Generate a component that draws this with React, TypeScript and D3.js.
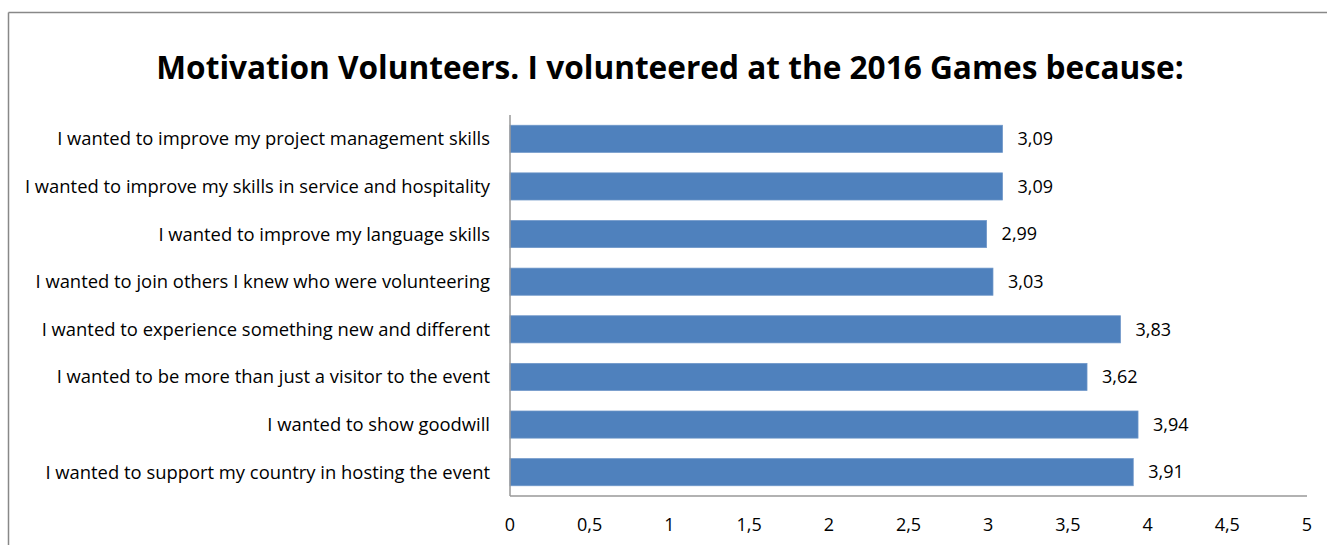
import React from "react";
import * as d3 from "d3";

const categories = [
  "I wanted to improve my project management skills",
  "I wanted to improve my skills in service and hospitality",
  "I wanted to improve my language skills",
  "I wanted to join others I knew who were volunteering",
  "I wanted to experience something new and different",
  "I wanted to be more than just a visitor to the event",
  "I wanted to show goodwill",
  "I wanted to support my country in hosting the event",
];
const values = [3.09, 3.09, 2.99, 3.03, 3.83, 3.62, 3.94, 3.91];
const ticks = [0, 0.5, 1, 1.5, 2, 2.5, 3, 3.5, 4, 4.5, 5];
const title = "Motivation Volunteers. I volunteered at the 2016 Games because:";

const W = 1328;
const H = 545;
const plot = { left: 510, right: 1307, top: 115, bottom: 496 };
const FONT = "'Open Sans', 'Noto Sans', sans-serif";
const fmt = (v: number) => String(v).replace(".", ",");

export default function App() {
  const x = d3.scaleLinear().domain([0, 5]).range([plot.left, plot.right]);
  const y = d3
    .scaleBand<string>()
    .domain(categories)
    .range([plot.top, plot.bottom])
    .paddingInner(0.43)
    .paddingOuter(0.215);
  return (
    <svg
      width={W}
      height={H}
      style={{ position: "absolute", left: 0, top: 0, background: "#fff" }}
      fontFamily={FONT}
    >
      <line x1={8.5} y1={12.5} x2={1327} y2={12.5} stroke="#888" strokeWidth={1.5} />
      <line x1={8.5} y1={12.5} x2={8.5} y2={H} stroke="#888" strokeWidth={1.5} />
      <text
        x={670}
        y={79}
        textAnchor="middle"
        fontSize={31.6}
        fontWeight="bold"
        fill="#000"
      >
        {title}
      </text>
      {categories.map((c, i) => (
        <g key={c}>
          <rect
            x={x(0)}
            y={y(c)!}
            width={x(values[i]) - x(0)}
            height={y.bandwidth()}
            fill="#4F81BD"
            stroke="#6f97c9"
            strokeWidth={0.75}
          />
          <text
            x={plot.left - 20}
            y={y(c)! + y.bandwidth() / 2}
            dy="0.35em"
            textAnchor="end"
            fontSize={18.4}
            fill="#000"
          >
            {c}
          </text>
          <text
            x={x(values[i]) + 15}
            y={y(c)! + y.bandwidth() / 2}
            dy="0.35em"
            fontSize={18}
            fill="#000"
          >
            {fmt(values[i])}
          </text>
        </g>
      ))}
      <line x1={plot.left} y1={plot.top} x2={plot.left} y2={plot.bottom} stroke="#999" strokeWidth={1.5} />
      <line x1={plot.left} y1={plot.bottom} x2={plot.right} y2={plot.bottom} stroke="#999" strokeWidth={1.5} />
      {ticks.map((t) => (
        <text key={t} x={x(t)} y={525} dy="0.35em" textAnchor="middle" fontSize={18} fill="#000">
          {fmt(t)}
        </text>
      ))}
    </svg>
  );
}
